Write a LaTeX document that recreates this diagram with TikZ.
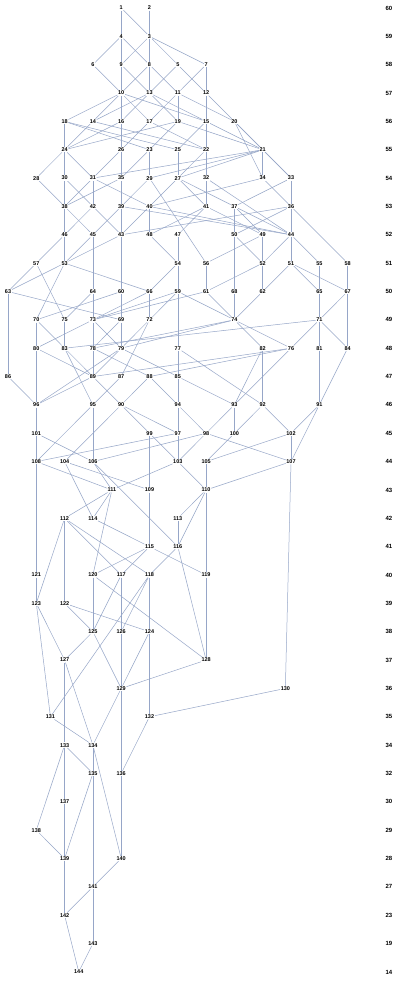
\documentclass[tikz,border=0pt]{standalone}
\usepackage{fontspec}
\setmainfont{Liberation Sans}
\usetikzlibrary{backgrounds}
\definecolor{edgecol}{RGB}{150,166,200}
\tikzset{
  lbl/.style={font=\bfseries\fontsize{5.5}{6}\selectfont, fill=white, inner sep=0.5pt},
  rlbl/.style={font=\bfseries\fontsize{6}{7}\selectfont, inner sep=0.5pt},
  edge/.style={draw=edgecol, line width=0.5pt}
}
\begin{document}
\begin{tikzpicture}[x=28.3pt,y=-28.35pt]
\useasboundingbox (-0.2827,-0.2822) rectangle (14.382,34.32);
\foreach \n/\c/\r in {1/4/0,2/5/0,4/4/1,3/5/1,
6/3/2,9/4/2,8/5/2,5/6/2,7/7/2,
10/4/3,13/5/3,11/6/3,12/7/3,
18/2/4,14/3/4,16/4/4,17/5/4,19/6/4,15/7/4,20/8/4,
24/2/5,26/4/5,23/5/5,25/6/5,22/7/5,21/9/5,
28/1/6,30/2/6,31/3/6,35/4/6,29/5/6,27/6/6,32/7/6,34/9/6,33/10/6,
38/2/7,42/3/7,39/4/7,40/5/7,41/7/7,37/8/7,36/10/7,
46/2/8,45/3/8,43/4/8,48/5/8,47/6/8,50/8/8,49/9/8,44/10/8,
57/1/9,53/2/9,54/6/9,56/7/9,52/9/9,51/10/9,55/11/9,58/12/9,
63/0/10,64/3/10,60/4/10,66/5/10,59/6/10,61/7/10,68/8/10,62/9/10,65/11/10,67/12/10,
70/1/11,75/2/11,73/3/11,69/4/11,72/5/11,74/8/11,71/11/11,
80/1/12,83/2/12,78/3/12,79/4/12,77/6/12,82/9/12,76/10/12,81/11/12,84/12/12,
86/0/13,89/3/13,87/4/13,88/5/13,85/6/13,
96/1/14,95/3/14,90/4/14,94/6/14,93/8/14,92/9/14,91/11/14,
101/1/15,99/5/15,97/6/15,98/7/15,100/8/15,102/10/15,
108/1/16,104/2/16,106/3/16,103/6/16,105/7/16,107/10/16,
111/3.67/17,109/5/17,110/7/17,
112/2/18,114/3/18,113/6/18,
115/5/19,116/6/19,
121/1/20,120/3/20,117/4/20,118/5/20,119/7/20,
123/1/21,122/2/21,
125/3/22,126/4/22,124/5/22,
127/2/23,128/7/23,
129/4/24,130/9.8/24,
131/1.5/25,132/5/25,
133/2/26,134/3/26,
135/3/27,136/4/27,
137/2/28,138/1/29,
139/2/30,140/4/30,
141/3/31,142/2/32,143/3/33,144/2.5/34}
  \node[lbl] (n\n) at (\c,\r) {\n};
\foreach \r/\v in {0/60,1/59,2/58,3/57,4/56,5/55,6/54,7/53,8/52,9/51,10/50,11/49,12/48,13/47,14/46,15/45,16/44,17/43,18/42,19/41,20/40,21/39,22/38,23/37,24/36,25/35,26/34,27/32,28/30,29/29,30/28,31/27,32/23,33/19,34/14}
  \node[rlbl] (l\r) at (13.46,\r) {\v};
\begin{scope}[on background layer]
\fill[white] (-0.2827,-0.2822) rectangle (14.382,34.32);
\foreach \a/\b in {1/4,1/3,2/3,
4/6,4/9,4/8,3/9,3/8,3/5,3/7,
6/10,9/10,9/13,8/10,8/13,8/11,5/13,5/12,7/11,7/12,
10/18,10/14,10/16,10/17,10/15,13/14,13/16,13/19,13/15,11/17,11/19,11/20,12/15,12/20,
18/24,18/23,18/25,14/24,14/22,16/26,16/24,17/26,17/22,19/24,19/23,19/21,15/25,15/22,15/21,20/21,
24/28,24/30,24/31,26/31,26/35,23/35,23/29,25/27,22/27,22/32,21/27,21/29,21/31,21/34,21/33,20/34,20/33,
28/38,30/38,30/42,31/38,31/42,31/40,35/38,35/39,29/39,29/56,27/40,27/41,27/37,32/41,32/44,34/40,34/36,33/37,33/36,
38/46,38/45,42/46,42/43,39/45,39/43,39/44,40/43,40/48,40/44,41/48,41/47,41/49,37/50,37/49,37/44,36/44,36/43,36/50,36/58,44/55,
46/57,46/53,45/53,45/64,43/53,43/60,48/54,47/54,50/52,50/68,49/52,49/56,44/52,44/51,
57/63,53/63,53/66,53/70,54/59,54/66,56/61,52/62,52/61,51/62,51/65,55/65,58/67,51/67,
63/86,63/69,64/75,64/73,60/69,60/70,66/73,66/72,59/73,59/72,59/74,61/74,61/73,68/74,62/74,65/71,67/71,67/84,57/75,
70/80,70/83,75/83,73/80,73/78,73/79,69/78,69/79,72/79,72/87,74/78,74/79,74/82,74/76,71/76,71/81,71/84,71/83,59/77,
80/89,80/96,83/89,83/95,78/89,78/88,79/89,79/96,79/85,77/85,77/92,82/92,82/93,76/89,76/88,76/93,81/91,84/91,
86/96,89/96,89/90,87/95,88/90,88/94,85/94,85/93,
96/101,95/106,95/108,90/99,90/97,94/97,94/98,93/98,93/100,92/100,92/102,91/102,91/107,90/104,
101/108,101/106,99/103,99/109,97/103,97/108,98/103,98/107,98/106,100/105,102/105,102/107,
108/111,108/121,104/109,104/114,106/111,106/116,103/111,103/110,105/110,107/110,107/130,
111/112,111/114,111/120,109/115,110/113,110/116,110/119,
112/117,112/118,112/122,112/123,114/115,113/116,
115/120,115/117,115/119,116/118,116/128,
121/123,120/125,117/125,117/126,118/124,118/126,118/131,120/128,119/128,
123/127,123/131,122/125,122/124,125/127,125/129,126/129,124/129,128/129,124/132,
127/133,127/134,131/134,129/134,129/136,130/132,132/136,
133/135,133/137,133/138,134/135,134/140,135/139,135/141,136/140,137/139,138/139,
139/142,140/141,141/142,141/143,142/144,143/144}
  \draw[edge] (n\a) -- (n\b);
\end{scope}
\end{tikzpicture}
\end{document}
